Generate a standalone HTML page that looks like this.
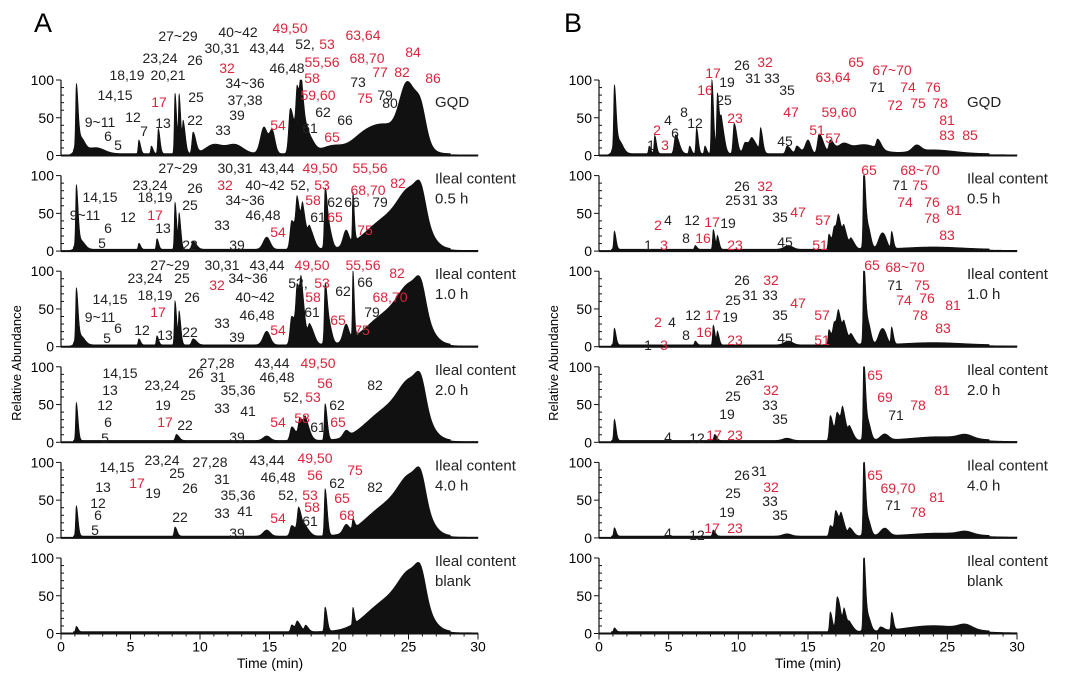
<!DOCTYPE html>
<html><head><meta charset="utf-8"><style>
body{margin:0;background:#fff}
svg{display:block;font-family:"Liberation Sans",sans-serif}
.l{font-size:14px;fill:#222}
.r{fill:#d7263d}
</style></head><body>
<svg id="fig" width="1080" height="681" viewBox="0 0 1080 681">
<text x="34" y="32" font-size="27">A</text>
<text x="564" y="32" font-size="27">B</text>
<text transform="translate(21,363) rotate(-90)" text-anchor="middle" font-size="13">Relative Abundance</text>
<text transform="translate(558,363) rotate(-90)" text-anchor="middle" font-size="13">Relative Abundance</text>
<text x="270" y="668" text-anchor="middle" font-size="14">Time (min)</text>
<text x="808" y="668" text-anchor="middle" font-size="14">Time (min)</text>
</svg>
<script>
// ---- data ----
const xTicks=[0,5,10,15,20,25,30];
const yTicks=[0,50,100];
const rowNames=["GQD","Ileal content|0.5 h","Ileal content|1.0 h","Ileal content|2.0 h","Ileal content|4.0 h","Ileal content|blank"];
// Panel A traces: peak times, heights, widths
const aT=[
[1.1,1.4,2.5,5.6,6.5,7.0,8.2,8.5,8.8,9.5,11,12.5,14.6,15.2,16.5,17.0,17.3,17.8,19.5,21.5,23.2,24.8,25.4,25.9],
[1.1,1.4,5.6,6.9,8.2,8.5,9.5,14.8,16.6,17.0,17.4,17.9,19.0,19.3,20.5,21.0,23.5,25.3,25.9],
[1.1,1.4,5.6,6.9,8.2,8.5,9.5,14.8,16.6,17.0,17.3,17.9,19.0,19.3,20.5,21.0,23.5,25.3,25.9],
[1.1,8.3,14.8,16.6,17.2,17.6,19.0,20.5,23.5,25.3,25.9],
[1.1,8.2,14.8,16.6,17.1,17.6,19.0,20.5,21.0,23.5,25.3,25.9],
[1.1,16.6,17.0,17.6,19.0,21.0,23.5,25.3,25.9]];
const aH=[
[80,20,8,18,10,33,80,75,40,28,12,12,35,30,60,75,65,22,10,10,38,45,45,28],
[78,12,8,14,62,45,10,16,38,55,45,25,72,25,20,65,40,60,28],
[68,12,8,12,58,42,8,18,38,65,55,25,72,25,22,88,40,60,28],
[50,8,6,18,28,20,48,8,40,60,28],
[40,12,8,14,35,10,62,10,12,40,60,28],
[7,9,13,8,32,22,40,60,28]];
const aW=[
[0.05,0.3,0.6,0.05,0.05,0.05,0.05,0.05,0.06,0.08,0.6,0.6,0.25,0.2,0.12,0.1,0.1,0.15,0.8,0.8,1.3,0.5,0.7,0.35],
[0.05,0.3,0.05,0.05,0.05,0.05,0.1,0.25,0.12,0.1,0.1,0.12,0.06,0.2,0.2,0.04,1.5,0.9,0.35],
[0.05,0.3,0.05,0.05,0.05,0.05,0.1,0.25,0.12,0.1,0.1,0.12,0.06,0.2,0.2,0.04,1.5,0.9,0.35],
[0.05,0.08,0.25,0.12,0.12,0.12,0.06,0.2,1.5,0.9,0.35],
[0.05,0.06,0.25,0.12,0.1,0.12,0.06,0.2,0.05,1.5,0.9,0.35],
[0.05,0.08,0.1,0.08,0.06,0.04,1.5,0.9,0.35]];
// Panel B traces
const bT=[
[1.1,1.4,3.6,4.0,5.5,6.5,7.0,7.6,8.1,8.5,8.8,9.7,10.5,11.0,11.6,13.5,14.2,15.0,15.8,16.6,17.5,19.0,20.0,22.8,24],
[1.1,6.9,8.2,8.5,13.6,16.5,16.9,17.2,17.6,18.1,19.0,19.3,20.2,20.5,21.0,24],
[1.1,6.9,8.2,8.5,13.6,16.5,16.9,17.2,17.6,18.1,19.0,19.3,20.2,20.5,21.0,24],
[1.1,8.3,13.5,16.6,17.1,17.5,18.0,19.0,19.3,20.5,24.5,26.3],
[1.1,8.2,13.5,16.6,17.0,17.4,18.0,19.0,19.3,20.5,24.5,26.3],
[1.1,16.6,17.1,17.6,18.0,19.0,19.3,20.2,21.0,24.0,26.3]];
const bH=[
[80,18,10,24,25,10,34,10,98,80,38,40,15,15,30,10,10,18,26,16,10,12,12,8,5],
[24,5,26,17,5,20,30,28,22,12,98,30,14,14,22,3],
[22,5,26,17,5,20,30,28,22,12,98,30,14,14,22,3],
[28,8,3,33,36,30,15,98,25,8,5,5],
[11,8,3,14,32,22,10,98,22,10,4,4],
[5,26,46,25,10,98,20,5,23,8,6]];
const bW=[
[0.05,0.3,0.05,0.05,0.1,0.05,0.05,0.05,0.05,0.06,0.08,0.08,0.15,0.15,0.06,0.1,0.1,0.2,0.12,0.1,0.4,1.0,0.1,0.3,1.5],
[0.05,0.05,0.05,0.05,0.3,0.06,0.12,0.1,0.1,0.1,0.05,0.2,0.2,0.2,0.05,2],
[0.05,0.05,0.05,0.05,0.3,0.06,0.12,0.1,0.1,0.1,0.05,0.2,0.2,0.2,0.05,2],
[0.05,0.06,0.3,0.08,0.12,0.1,0.1,0.05,0.2,0.3,2,0.5],
[0.05,0.06,0.3,0.08,0.1,0.1,0.1,0.05,0.2,0.3,2,0.5],
[0.05,0.06,0.1,0.08,0.1,0.05,0.2,0.1,0.05,2,0.5]];
// labels: [text, x, y, red]
const aLab=[
[["27~29",178,36],["40~42",238,32],["49,50",290,28,1],["63,64",363,35,1],["23,24",160,58],["26",195,60],["30,31",222,48],["43,44",267,48],["52,",305,44],["53",327,44,1],["84",413,52,1],["18,19",127,75],["20,21",168,75],["32",227,68,1],["46,48",287,68],["55,56",322,62,1],["68,70",367,58,1],["14,15",115,95],["17",159,102,1],["25",196,97],["34~36",245,83],["58",312,78,1],["73",358,82],["77",380,72,1],["82",402,72,1],["86",433,78,1],["9~11",100,122],["12",133,117],["7",144,131],["13",163,123],["22",195,120],["37,38",245,100],["59,60",318,95,1],["75",365,98,1],["79",385,95],["80",390,103],["6",108,136],["5",118,145],["39",237,115],["33",223,130],["54",278,125,1],["61",310,128],["62",323,112],["66",345,120],["65",332,137,1]],
[["27~29",178,168],["30,31",235,168],["43,44",277,168],["49,50",320,168,1],["55,56",370,168,1],["23,24",150,185],["26",195,188],["32",225,185,1],["40~42",265,185],["52,",300,185],["53",322,185,1],["82",398,183,1],["68,70",368,190,1],["14,15",100,197],["18,19",155,197],["25",190,205],["34~36",245,200],["58",313,200,1],["62",335,202],["66",352,202],["79",380,202],["9~11",85,215],["12",128,217],["17",155,215,1],["46,48",263,215],["61",318,217],["65",335,217,1],["6",108,228],["13",163,228],["33",222,225],["54",278,232,1],["75",365,230,1],["5",102,243],["22",190,245],["39",237,245]],
[["27~29",170,265],["30,31",222,265],["43,44",267,265],["49,50",312,265,1],["55,56",363,265,1],["82",397,273,1],["23,24",145,278],["25",182,278],["32",217,285,1],["34~36",248,278],["52,",298,283],["53",322,283,1],["66",365,282],["62",343,291],["14,15",110,299],["18,19",155,295],["26",192,297],["40~42",255,297],["58",313,297,1],["68,70",390,297,1],["17",158,312,1],["9~11",100,317],["46,48",257,315],["61",312,312],["79",372,312],["33",222,323],["65",338,320,1],["54",278,330,1],["75",362,330,1],["6",118,328],["12",142,330],["5",107,338],["13",165,335],["22",190,332],["39",237,337]],
[["27,28",217,363],["43,44",272,363],["49,50",318,363,1],["14,15",120,373],["26",196,373],["31",218,377],["46,48",277,377],["56",325,383,1],["23,24",162,385],["82",375,385],["13",110,390],["25",188,395],["35,36",238,390],["52,",293,397],["53",313,397,1],["62",337,405],["12",105,405],["19",163,405],["33",222,408],["41",248,411],["6",108,422],["17",165,422,1],["22",185,425],["54",278,422,1],["58",302,418,1],["61",318,427],["65",338,422,1],["5",105,438],["39",237,437]],
[["14,15",117,467],["23,24",162,460],["27,28",210,462],["43,44",267,460],["49,50",315,458,1],["25",177,473],["46,48",278,477],["56",315,475,1],["75",355,470,1],["17",137,483,1],["19",153,493],["26",190,488],["31",222,479],["62",337,483],["82",375,487],["13",103,487],["35,36",238,495],["52,",288,495],["53",310,495,1],["65",342,498,1],["12",98,503],["6",98,515],["33",222,513],["41",245,511],["58",312,507,1],["22",180,517],["54",278,518,1],["68",347,515,1],["61",310,521],["5",95,530],["39",237,533]],
[]];
const bLab=[
[["26",742,65],["32",765,62,1],["17",713,73,1],["19",727,82],["31",753,78],["33",772,78],["65",856,62,1],["67~70",892,70,1],["63,64",833,77,1],["16",705,90,1],["35",787,90],["71",877,87],["74",908,87,1],["76",933,87,1],["25",724,100],["8",684,112],["47",791,112,1],["59,60",839,112,1],["72",895,105,1],["75",918,103,1],["78",940,103,1],["4",668,120],["12",695,123],["23",735,118,1],["81",947,120,1],["2",657,130,1],["6",675,133],["51",817,130,1],["57",833,138,1],["45",785,141],["83",947,135,1],["85",970,135,1],["1",651,145],["3",665,145,1]],
[["65",869,170,1],["68~70",920,170,1],["26",742,186],["32",765,186,1],["71",900,185],["75",920,185,1],["25",733,200],["31",750,200],["33",770,200],["74",905,202,1],["76",932,202,1],["81",954,210,1],["35",780,217],["47",798,212,1],["4",668,220],["12",692,220],["17",712,222,1],["19",728,223],["57",823,220,1],["78",932,218,1],["2",658,225,1],["83",947,235,1],["8",686,238],["16",703,238,1],["1",648,245],["3",664,245,1],["23",735,245,1],["45",785,242],["51",820,245,1]],
[["65",872,265,1],["68~70",905,267,1],["26",742,280],["32",771,280,1],["71",895,285],["75",922,285,1],["25",733,300],["31",750,295],["33",770,295],["74",904,300,1],["76",927,298,1],["81",953,305,1],["47",798,303,1],["35",780,315],["57",822,315,1],["78",920,315,1],["12",693,315],["17",713,315,1],["19",730,317],["2",658,322,1],["4",672,322],["83",943,328,1],["8",686,335],["16",704,332,1],["23",735,340,1],["45",785,338],["51",822,340,1],["1",648,345],["3",664,345,1]],
[["26",743,380],["31",757,375],["65",875,375,1],["32",771,390,1],["81",942,390,1],["25",733,396],["69",885,397,1],["78",918,405,1],["33",770,405],["19",727,414],["71",896,415],["35",780,419],["12",697,438],["17",714,435,1],["23",735,435,1],["4",668,437]],
[["26",742,475],["31",759,471],["65",875,475,1],["32",771,487,1],["69,70",898,488,1],["81",937,497,1],["25",733,493],["33",770,501],["19",727,512],["71",893,505],["78",918,512,1],["35",780,515],["12",697,535],["17",712,528,1],["23",735,528,1],["4",668,533]],
[]];
// ---- drawing ----
const NS="http://www.w3.org/2000/svg";
const svg=document.getElementById('fig');
function el(tag,attrs,parent){const e=document.createElementNS(NS,tag);for(const k in attrs)e.setAttribute(k,attrs[k]);(parent||svg).appendChild(e);return e;}
const rowTop=i=>80+95.6*i;
const rowZero=i=>rowTop(i)+75.5;
function panel(px0,px30,T,H,W,labs,key,rightX){
  const xs=t=>px0+t*(px30-px0)/30;
  for(let r=0;r<6;r++){
    const top=rowTop(r),zero=rowZero(r);
    const ys=v=>zero-v*(zero-top)/100;
    const g=el('g',{});
    
    
    let d='M'+xs(0)+','+ys(0);
    for(let t=0;t<=30.001;t+=0.02){
      let v=(t>0.9&&t<28)?2.5:(t>=28?1:0.5);
      for(let i=0;i<T[r].length;i++){
        const dt=t-T[r][i];const w=W[r][i];
        const s=(dt>0&&w<0.2)?w*2.5:w;
        v+=H[r][i]*Math.exp(-dt*dt/(2*s*s));
      }
      v=Math.min(v,100);
      d+=' L'+xs(t).toFixed(2)+','+ys(v).toFixed(2);
    }
    d+=' L'+xs(30)+','+ys(0)+' Z';
    const p=el('path',{d:d,fill:'#111',stroke:'#111','stroke-width':0.6},g);
    
    
    el('line',{x1:xs(0),y1:top,x2:xs(0),y2:zero,stroke:'#111','stroke-width':1.2},g);
    for(let v=0;v<=100;v+=10){
      const major=yTicks.includes(v);
      el('line',{x1:xs(0)-(major?5:0),y1:ys(v),x2:xs(0)+(major?0:3),y2:ys(v),stroke:'#111','stroke-width':1},g);
    }
    yTicks.forEach(v=>{const tx=el('text',{x:xs(0)-7,y:ys(v)+5,'text-anchor':'end','font-size':14},g);tx.textContent=v;
      
      });
    el('line',{x1:xs(0),y1:zero,x2:xs(30),y2:zero,stroke:'#111','stroke-width':2},g);
    const parts=rowNames[r].split('|');
    parts.forEach((s,k)=>{const tx=el('text',{x:rightX,y:(r===0?top+27:top+8)+k*20,'font-size':15,fill:'#222'},g);tx.textContent=s;
      
      });
    labs[r].forEach(L=>{const tx=el('text',{x:L[1],y:L[2]+5,'text-anchor':'middle',class:'l'+(L[3]?' r':'')},g);tx.textContent=L[0];
      
      });
  }
  const z=rowZero(5);
  for(let t=0;t<=30;t++){const major=t%5===0;
    el('line',{x1:xs(t),y1:z,x2:xs(t),y2:z+(major?6:3),stroke:'#111','stroke-width':1});}
  xTicks.forEach(t=>{const tx=el('text',{x:xs(t),y:z+18,'text-anchor':'middle','font-size':14});tx.textContent=t;
    
    });
}
panel(61,478,aT,aH,aW,aLab,'panel-a',435);
panel(599,1017,bT,bH,bW,bLab,'panel-b',967);
</script>
</body></html>
